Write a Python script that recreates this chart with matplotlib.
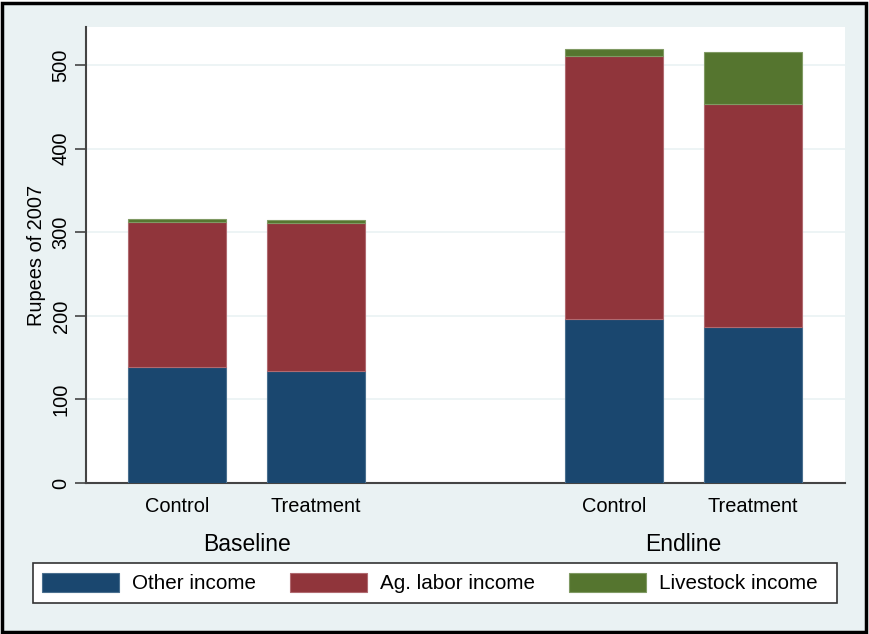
import matplotlib
matplotlib.use("Agg")
import matplotlib.pyplot as plt
from matplotlib.patches import Rectangle, Patch

plt.rcParams['font.family'] = ['Liberation Sans', 'DejaVu Sans']

groups = ["Baseline", "Endline"]
arms = ["Control", "Treatment", "Control", "Treatment"]
other_income = [139, 134, 196, 187]
ag_labor_income = [173.5, 177, 315, 266]
livestock_income = [2.8, 3.2, 8, 62]
series_names = ["Other income", "Ag. labor income", "Livestock income"]
colors = ["#1A476F", "#90353B", "#55752F"]
edge_colors = ["#4a6f8f", "#b06a70", "#809a64"]

W, H = 869, 634
fig = plt.figure(figsize=(W / 100, H / 100), dpi=100)
bg = "#EAF2F3"
fig.patch.set_facecolor("white")
fig.patches.append(Rectangle((2 / W, 2 / H), 864 / W, 629 / H, transform=fig.transFigure,
                             facecolor=bg, edgecolor="black", linewidth=2.5, zorder=-10))

ax = fig.add_axes([86 / W, 1 - 483 / H, (845 - 86) / W, (483 - 27) / H])
ax.set_facecolor("white")

pos = [0, 1, 3.144, 4.144]
width = 0.705
bottoms = [0] * 4
for vals, c, ec, name in zip([other_income, ag_labor_income, livestock_income], colors, edge_colors, series_names):
    ax.bar(pos, vals, width=width, bottom=bottoms, color=c, edgecolor=ec, linewidth=0.8, label=name, zorder=3)
    bottoms = [b + v for b, v in zip(bottoms, vals)]

ax.set_xlim(-0.655, 4.806)
ax.set_ylim(0, 545.5)
ax.set_yticks([0, 100, 200, 300, 400, 500])
ax.set_yticklabels(["0", "100", "200", "300", "400", "500"], rotation=90, va="center", fontsize=14.4)
ax.tick_params(axis='y', length=8, width=1.2, color="#444444", pad=3)
ax.set_xticks(pos)
ax.set_xticklabels(arms, fontsize=14.4)
ax.tick_params(axis='x', length=0, pad=10)
for y in [100, 200, 300, 400, 500]:
    ax.axhline(y, color=bg, linewidth=1.2, zorder=1)
for s in ["top", "right"]:
    ax.spines[s].set_visible(False)
ax.spines["left"].set_color("#444444")
ax.spines["bottom"].set_color("#444444")
ax.spines["left"].set_linewidth(1.5)
ax.spines["bottom"].set_linewidth(1.5)
ax.set_ylabel("Rupees of 2007", fontsize=14.4, labelpad=4)

for g, x in zip(groups, [(pos[0] + pos[1]) / 2, (pos[2] + pos[3]) / 2]):
    ax.text(x, -0.1345, g, transform=ax.get_xaxis_transform(), ha="center", va="center", fontsize=16.5)

# legend box
fig.patches.append(Rectangle((33 / W, 1 - 603 / H), 804 / W, 40 / H, transform=fig.transFigure,
                             facecolor="white", edgecolor="#333333", linewidth=1.2, zorder=1))
handles = [Patch(facecolor=c, edgecolor=ec, linewidth=0.8) for c, ec in zip(colors, edge_colors)]
leg = fig.legend(handles, series_names, loc="center left",
                 bbox_to_anchor=(42 / W, 1 - 583 / H),
                 ncol=3, fontsize=14.9, frameon=False,
                 handlelength=3.72, handleheight=1.05, columnspacing=1.64, handletextpad=0.63,
                 borderpad=0, borderaxespad=0)
leg.set_zorder(5)

fig.savefig("out.png", dpi=100, facecolor=fig.get_facecolor())
